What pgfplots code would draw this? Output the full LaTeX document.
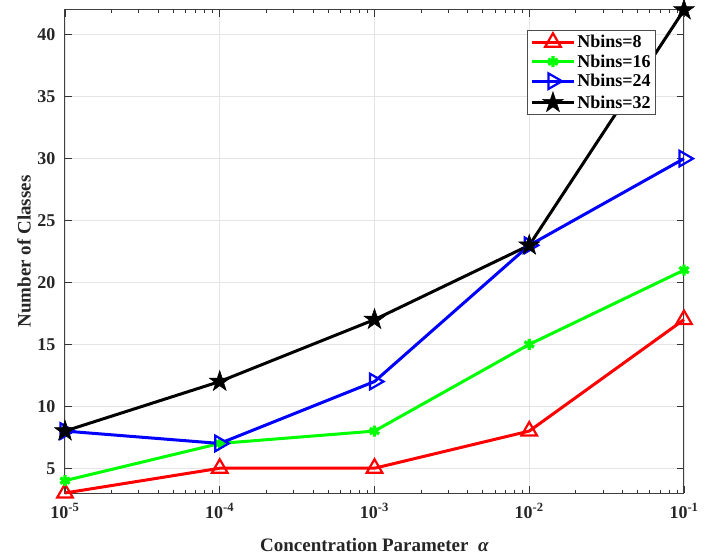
\documentclass[border=0pt]{standalone}
\usepackage{pgfplots}
\pgfplotsset{compat=1.18}
\usepackage{fontspec}
\setmainfont{Liberation Serif}
\usetikzlibrary{plotmarks}
\pgfdeclareplotmark{fstar}{%
  \pgfpathmoveto{\pgfqpointpolar{90}{\pgfplotmarksize}}%
  \pgfpathlineto{\pgfqpointpolar{126}{0.382\pgfplotmarksize}}%
  \pgfpathlineto{\pgfqpointpolar{162}{\pgfplotmarksize}}%
  \pgfpathlineto{\pgfqpointpolar{198}{0.382\pgfplotmarksize}}%
  \pgfpathlineto{\pgfqpointpolar{234}{\pgfplotmarksize}}%
  \pgfpathlineto{\pgfqpointpolar{270}{0.382\pgfplotmarksize}}%
  \pgfpathlineto{\pgfqpointpolar{306}{\pgfplotmarksize}}%
  \pgfpathlineto{\pgfqpointpolar{342}{0.382\pgfplotmarksize}}%
  \pgfpathlineto{\pgfqpointpolar{18}{\pgfplotmarksize}}%
  \pgfpathlineto{\pgfqpointpolar{54}{0.382\pgfplotmarksize}}%
  \pgfpathclose
  \pgfusepathqfillstroke}
\begin{document}
\begin{tikzpicture}
\begin{axis}[
  name=ax,
  scale only axis,
  width=619pt, height=483pt,
  xmode=log,
  xmin=1e-5, xmax=1e-1,
  ymin=3, ymax=42,
  xtick={1e-5,1e-4,1e-3,1e-2,1e-1},
  xticklabels={\textbf{10}\textsuperscript{\textbf{-5}},\textbf{10}\textsuperscript{\textbf{-4}},\textbf{10}\textsuperscript{\textbf{-3}},\textbf{10}\textsuperscript{\textbf{-2}},\textbf{10}\textsuperscript{\textbf{-1}}},
  ytick={5,10,15,20,25,30,35,40},
  yticklabels={\textbf{5},\textbf{10},\textbf{15},\textbf{20},\textbf{25},\textbf{30},\textbf{35},\textbf{40}},
  minor xtick={},
  tick align=inside,
  tick style={black!80, line width=0.8pt},
  major tick length=7pt,
  grid=major,
  grid style={gray!20, line width=0.8pt},
  axis line style={black!75, line width=1pt},
  tick label style={font=\fontsize{18}{21}\selectfont, black!85},
  yticklabel style={xshift=-6pt},
  xticklabel style={yshift=-7pt},
  xlabel={\textbf{Concentration Parameter \ \textit{α}}},
  ylabel={\textbf{Number of Classes}},
  label style={font=\fontsize{19}{22}\selectfont, black!85},
  xlabel style={at={(axis description cs:0.5,0)}, anchor=center, yshift=-52pt},
  ylabel style={at={(axis description cs:0,0.5)}, anchor=center, yshift=41pt},
  legend style={at={(0.955,0.959)}, anchor=north east, draw=black!70, line width=0.8pt, font=\fontsize{18}{20.5}\selectfont\bfseries, row sep=1.5pt, inner xsep=3pt, inner ysep=3pt, cells={anchor=west}},
  legend cell align=left,
  legend image code/.code={\draw[mark repeat=2, mark phase=2] plot coordinates {(0pt,0pt) (21pt,0pt) (42pt,0pt)};},
  clip=false,
]
\addplot[red, line width=3pt, mark=triangle, mark size=9pt, mark options={line width=2.2pt, solid}] coordinates {(1e-5,3) (1e-4,5) (1e-3,5) (1e-2,8) (1e-1,17)};
\addlegendentry{Nbins=8}
\addplot[green, line width=3pt, mark=asterisk, mark size=5.5pt, mark options={line width=3.2pt, solid}] coordinates {(1e-5,4) (1e-4,7) (1e-3,8) (1e-2,15) (1e-1,21)};
\addlegendentry{Nbins=16}
\addplot[blue, line width=3pt, mark=triangle, mark size=9pt, mark options={line width=2.2pt, solid, rotate=-90}] coordinates {(1e-5,8) (1e-4,7) (1e-3,12) (1e-2,23) (1e-1,30)};
\addlegendentry{Nbins=24}
\addplot[black, line width=3pt, mark=fstar, mark size=11pt, mark options={line width=0.5pt, solid, fill=black}] coordinates {(1e-5,8) (1e-4,12) (1e-3,17) (1e-2,23) (1e-1,42)};
\addlegendentry{Nbins=32}
\end{axis}
\pgfresetboundingbox
\useasboundingbox ([xshift=-65pt,yshift=-66pt]ax.south west) rectangle ([xshift=27pt,yshift=10pt]ax.north east);
\end{tikzpicture}
\end{document}
